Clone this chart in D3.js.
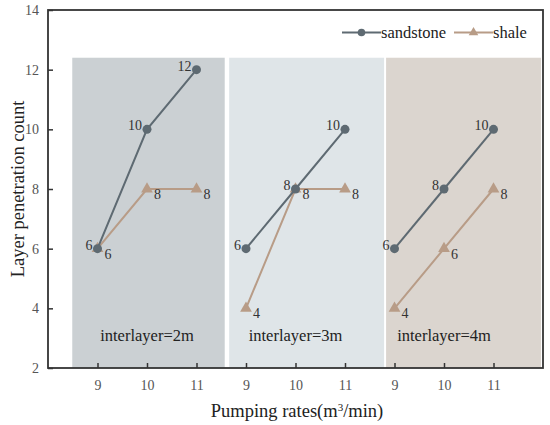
<!DOCTYPE html>
<html>
<head>
<meta charset="utf-8">
<script src="https://cdn.jsdelivr.net/npm/d3@7/dist/d3.min.js"></script>
<style>
  html, body { margin: 0; padding: 0; background: #fff; }
  svg { display: block; }
  svg text { font-family: "Liberation Serif", "Times New Roman", Tinos, "DejaVu Serif", serif !important; }
</style>
</head>
<body>
<svg id="chart" width="550" height="425" font-family="Liberation Serif, DejaVu Serif, serif"></svg>
<script>
// ---- data ----
const groups = ["interlayer=2m", "interlayer=3m", "interlayer=4m"];
const rates = [9, 10, 11];
const sandstone = [[6, 10, 12], [6, 8, 10], [6, 8, 10]];
const shale = [[6, 8, 8], [4, 8, 8], [4, 6, 8]];
const yTicks = [2, 4, 6, 8, 10, 12, 14];
const seriesNames = ["sandstone", "shale"];

// ---- layout ----
const W = 550, H = 425;
const m = { left: 48, right: 7, top: 10, bottom: 57 };
const svg = d3.select("#chart");

const x = d3.scaleLinear().domain([-1, groups.length * rates.length]).range([m.left, W - m.right]);
const y = d3.scaleLinear().domain([2, 14]).range([H - m.bottom, m.top]);

const panelFill = ["#cbd0d3", "#dfe5e8", "#dbd5cf"];
const panelSpan = [[-0.51, 2.57], [2.66, 5.79], [5.83, 8.96]];
const colS = "#5e6a72", colH = "#b89c87";

// panels
svg.append("g").selectAll("rect").data(groups).join("rect")
  .attr("x", (d, i) => x(panelSpan[i][0]))
  .attr("width", (d, i) => x(panelSpan[i][1]) - x(panelSpan[i][0]))
  .attr("y", y(12.4))
  .attr("height", y(2) - y(12.4))
  .attr("fill", (d, i) => panelFill[i]);

// panel titles
svg.append("g").selectAll("text").data(groups).join("text")
  .attr("x", (d, i) => x(i * 3 + 1))
  .attr("y", y(2.9))
  .attr("text-anchor", "middle")
  .attr("font-size", 16.5)
  .attr("fill", "#222")
  .text(d => d);

// points helper
const pts = (arr, g) => arr.map((v, j) => ({ xi: g * 3 + j, v }));

const line = d3.line().x(d => x(d.xi)).y(d => y(d.v));
const tri = d3.symbol().type(d3.symbolTriangle).size(60);

// shale first (below)
groups.forEach((g, gi) => {
  const p = pts(shale[gi], gi);
  svg.append("path").datum(p).attr("d", line).attr("fill", "none")
    .attr("stroke", colH).attr("stroke-width", 2);
  svg.append("g").selectAll("path").data(p).join("path")
    .attr("d", tri)
    .attr("transform", d => `translate(${x(d.xi)},${y(d.v)})`)
    .attr("fill", colH);
  svg.append("g").selectAll("text").data(p).join("text")
    .attr("x", d => x(d.xi) + 7)
    .attr("y", d => y(d.v) + 10)
    .attr("font-size", 14).attr("fill", "#333")
    .text(d => d.v);
});

groups.forEach((g, gi) => {
  const p = pts(sandstone[gi], gi);
  svg.append("path").datum(p).attr("d", line).attr("fill", "none")
    .attr("stroke", colS).attr("stroke-width", 2);
  svg.append("g").selectAll("circle").data(p).join("circle")
    .attr("cx", d => x(d.xi)).attr("cy", d => y(d.v)).attr("r", 4.5)
    .attr("fill", colS);
  svg.append("g").selectAll("text").data(p).join("text")
    .attr("x", d => x(d.xi) - 5)
    .attr("y", d => y(d.v) + 1)
    .attr("text-anchor", "end")
    .attr("font-size", 14).attr("fill", "#333")
    .text(d => d.v);
});

// axes (ticks inward)
const xTickIdx = d3.range(groups.length * rates.length);
const xAxis = d3.axisBottom(x).tickValues(xTickIdx)
  .tickFormat(i => rates[i % rates.length]).tickSizeInner(-5).tickSizeOuter(0).tickPadding(12);
const gx = svg.append("g").attr("transform", `translate(0,${H - m.bottom})`).call(xAxis);
const yAxis = d3.axisLeft(y).tickValues(yTicks).tickSizeInner(-5).tickSizeOuter(0).tickPadding(9);
const gy = svg.append("g").attr("transform", `translate(${m.left},0)`).call(yAxis);
[gx, gy].forEach(g => {
  g.attr("font-family", null);
  g.select(".domain").remove();
  g.selectAll(".tick line").attr("stroke", "#333").attr("stroke-width", 1.5);
  g.selectAll(".tick text").attr("font-size", 14).attr("fill", "#555");
});

// frame
svg.append("rect")
  .attr("x", m.left).attr("y", m.top)
  .attr("width", W - m.right - m.left).attr("height", H - m.bottom - m.top)
  .attr("fill", "none").attr("stroke", "#333").attr("stroke-width", 1.8);

// axis titles
svg.append("text")
  .attr("x", 297).attr("y", 417)
  .attr("text-anchor", "middle").attr("font-size", 18.5).attr("fill", "#222")
  .html('Pumping rates(m<tspan baseline-shift="super" font-size="11">3</tspan>/min)');
svg.append("text")
  .attr("transform", `translate(24,${(m.top + H - m.bottom) / 2}) rotate(-90)`)
  .attr("text-anchor", "middle").attr("font-size", 18.5).attr("fill", "#222")
  .text("Layer penetration count");

// legend
const leg = svg.append("g");
const legItems = [
  { name: seriesNames[0], x0: 342, col: colS, mark: "circle" },
  { name: seriesNames[1], x0: 454, col: colH, mark: "tri" }
];
legItems.forEach(it => {
  leg.append("line").attr("x1", it.x0).attr("x2", it.x0 + 39)
    .attr("y1", 32.5).attr("y2", 32.5).attr("stroke", it.col).attr("stroke-width", 2);
  if (it.mark === "circle") {
    leg.append("circle").attr("cx", it.x0 + 19.5).attr("cy", 32.5).attr("r", 3.8).attr("fill", it.col);
  } else {
    leg.append("path").attr("d", d3.symbol().type(d3.symbolTriangle).size(40))
      .attr("transform", `translate(${it.x0 + 19.5},32.5)`).attr("fill", it.col);
  }
  leg.append("text").attr("x", it.x0 + 39).attr("y", 38)
    .attr("font-size", 16.5).attr("fill", "#222").text(it.name);
});
</script>
</body>
</html>
